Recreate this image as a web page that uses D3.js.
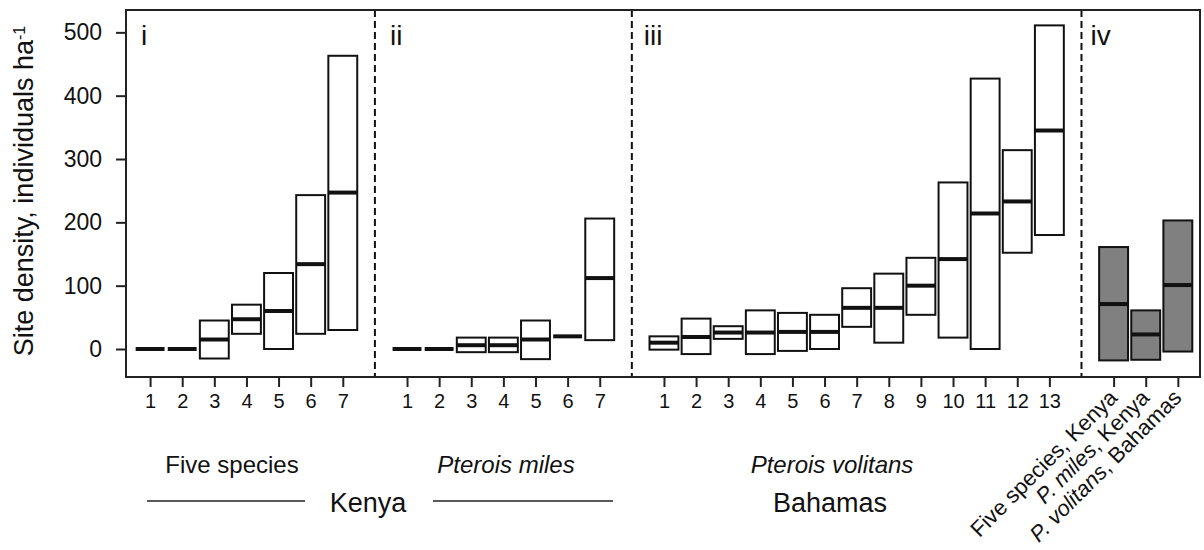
<!DOCTYPE html>
<html lang="en">
<head>
<meta charset="UTF-8">
<script src="https://d3js.org/d3.v7.min.js"></script>
<title>Site density</title>
<style>
  body { margin: 0; background: white; }
  svg text { font-family: "Liberation Sans", Arial, sans-serif; fill: #111; }
</style>
</head>
<body>
<svg id="chart"></svg>
<script>
// panel i: five species, Kenya
const kenyaAllSites = [1, 2, 3, 4, 5, 6, 7];
const kenyaAllLow = [0, 0, -15, 24, 0, 24, 30];
const kenyaAllMed = [0, 0, 15, 47, 60, 134, 247];
const kenyaAllHigh = [0, 0, 45, 70, 120, 243, 463];

// panel ii: Pterois miles, Kenya
const kenyaMilesSites = [1, 2, 3, 4, 5, 6, 7];
const kenyaMilesLow = [0, 0, -5, -5, -16, 20, 14];
const kenyaMilesMed = [0, 0, 6, 6, 15, 20, 112];
const kenyaMilesHigh = [0, 0, 18, 18, 45, 20, 206];

// panel iii: Pterois volitans, Bahamas
const bahamasSites = [1, 2, 3, 4, 5, 6, 7, 8, 9, 10, 11, 12, 13];
const bahamasLow = [-1, -8, 16, -8, -3, 0, 35, 10, 54, 18, 0, 152, 180];
const bahamasMed = [10, 19, 26, 26, 27, 27, 65, 65, 100, 142, 214, 233, 345];
const bahamasHigh = [20, 48, 36, 61, 57, 54, 96, 119, 144, 263, 427, 314, 511];

// panel iv: pooled
const pooledNames = ["Five species, Kenya", "P. miles, Kenya", "P. volitans, Bahamas"];
const pooledLow = [-18, -17, -4];
const pooledMed = [71, 23, 101];
const pooledHigh = [161, 61, 203];

const yTicks = [0, 100, 200, 300, 400, 500];

const w = 1204, h = 550;
const mLeft = 126, mRight = 1200, mTop = 10, mBottom = 377;

const svg = d3.select("#chart").attr("width", w).attr("height", h);

const x = d3.scaleLinear().domain([0.25, 33.69]).range([mLeft, mRight]);
const y = d3.scaleLinear().domain([-44.2, 535.3]).range([mBottom, mTop]);

// each site gets a slot on one shared x axis, panels offset by a gap
function rows(sites, lo, med, hi, offset, fill) {
  return sites.map((s, i) => ({ pos: offset + i + 1, label: s, lo: lo[i], med: med[i], hi: hi[i], fill: fill }));
}
const boxes = [].concat(
  rows(kenyaAllSites, kenyaAllLow, kenyaAllMed, kenyaAllHigh, 0, "white"),
  rows(kenyaMilesSites, kenyaMilesLow, kenyaMilesMed, kenyaMilesHigh, 8, "white"),
  rows(bahamasSites, bahamasLow, bahamasMed, bahamasHigh, 16, "white")
);
const pooled = rows(pooledNames, pooledLow, pooledMed, pooledHigh, 30, "#808080");
const all = boxes.concat(pooled);

const bw = x(0.9) - x(0);

// boxes
svg.selectAll("rect.box")
   .data(all.filter(d => d.hi > d.lo))
   .enter()
   .append("rect")
   .attr("class", "box")
   .attr("x", d => x(d.pos) - bw / 2)
   .attr("width", bw)
   .attr("y", d => y(d.hi))
   .attr("height", d => y(d.lo) - y(d.hi))
   .attr("fill", d => d.fill)
   .attr("stroke", "#111")
   .attr("stroke-width", 2);

// medians
svg.selectAll("line.med")
   .data(all)
   .enter()
   .append("line")
   .attr("class", "med")
   .attr("x1", d => x(d.pos) - bw / 2)
   .attr("x2", d => x(d.pos) + bw / 2)
   .attr("y1", d => y(d.med))
   .attr("y2", d => y(d.med))
   .attr("stroke", "#111")
   .attr("stroke-width", 4);

// dashed separators between panels
svg.selectAll("line.sep")
   .data([8, 16, 30])
   .enter()
   .append("line")
   .attr("class", "sep")
   .attr("x1", d => x(d)).attr("x2", d => x(d))
   .attr("y1", mTop).attr("y2", mBottom)
   .attr("stroke", "#111")
   .attr("stroke-width", 2)
   .attr("stroke-dasharray", "7,4");

// frame
svg.append("rect")
   .attr("x", mLeft).attr("y", mTop)
   .attr("width", mRight - mLeft).attr("height", mBottom - mTop)
   .attr("fill", "none")
   .attr("stroke", "#222")
   .attr("stroke-width", 2);

// y axis
const yAxis = d3.axisLeft(y).tickValues(yTicks).tickSize(10).tickPadding(14);
const gy = svg.append("g").attr("transform", "translate(" + mLeft + ",0)").call(yAxis);
gy.select(".domain").remove();
gy.selectAll("line").attr("stroke", "#222").attr("stroke-width", 2);
gy.selectAll("text").style("font-size", "23px").attr("font-family", null);

// x axis ticks for numbered sites
const xAxis = d3.axisBottom(x)
  .tickValues(boxes.map(d => d.pos))
  .tickFormat((d, i) => boxes[i].label)
  .tickSize(10).tickPadding(7);
const gx = svg.append("g").attr("transform", "translate(0," + mBottom + ")").call(xAxis);
gx.select(".domain").remove();
gx.selectAll("line").attr("stroke", "#222").attr("stroke-width", 2);
gx.selectAll("text").style("font-size", "20px").attr("font-family", null);

// ticks for pooled panel
const gp = svg.append("g").attr("transform", "translate(0," + mBottom + ")")
  .call(d3.axisBottom(x).tickValues(pooled.map(d => d.pos)).tickFormat("").tickSize(10));
gp.select(".domain").remove();
gp.selectAll("line").attr("stroke", "#222").attr("stroke-width", 2);

// rotated pooled labels, genus in italics
const rl = svg.selectAll("text.rot")
  .data(pooled)
  .enter()
  .append("text")
  .attr("class", "rot")
  .attr("transform", d => "translate(" + (x(d.pos) + 5) + "," + (mBottom + 22) + ") rotate(-45)")
  .attr("text-anchor", "end")
  .style("font-size", "22px");
rl.each(function(d) {
  const t = d3.select(this);
  const m = d.label.match(/^(P\. \w+)(,.*)$/);
  if (m) {
    t.append("tspan").style("font-style", "italic").text(m[1]);
    t.append("tspan").text(m[2]);
  } else {
    t.text(d.label);
  }
});

// panel letters
const panels = [{ t: "i", p: 0, dx: 15 }, { t: "ii", p: 8, dx: 15 }, { t: "iii", p: 16, dx: 12 }, { t: "iv", p: 30, dx: 9 }];
svg.selectAll("text.panel")
   .data(panels)
   .enter()
   .append("text")
   .attr("class", "panel")
   .attr("x", d => (d.p === 0 ? mLeft : x(d.p)) + d.dx)
   .attr("y", 45)
   .style("font-size", "28px")
   .text(d => d.t);

// y axis title
const yt = svg.append("text")
  .attr("transform", "translate(" + 33 + "," + 191 + ") rotate(-90)")
  .attr("text-anchor", "middle")
  .style("font-size", "27px");
yt.append("tspan").text("Site density, individuals ha");
yt.append("tspan").attr("dy", "-0.5em").style("font-size", "16px").text("-1");

// group labels under the axis
svg.append("text").attr("x", 232).attr("y", 473)
   .attr("text-anchor", "middle").style("font-size", "24px").text("Five species");
svg.append("text").attr("x", 506).attr("y", 473)
   .attr("text-anchor", "middle").style("font-size", "24px").style("font-style", "italic").text("Pterois miles");
svg.append("text").attr("x", 832).attr("y", 473)
   .attr("text-anchor", "middle").style("font-size", "24px").style("font-style", "italic").text("Pterois volitans");
svg.append("text").attr("x", 368).attr("y", 512)
   .attr("text-anchor", "middle").style("font-size", "27px").text("Kenya");
svg.append("text").attr("x", 830).attr("y", 512)
   .attr("text-anchor", "middle").style("font-size", "27px").text("Bahamas");
svg.append("line").attr("x1", 147).attr("x2", 305).attr("y1", 501).attr("y2", 501)
   .attr("stroke", "#222").attr("stroke-width", 1.5);
svg.append("line").attr("x1", 433).attr("x2", 613).attr("y1", 501).attr("y2", 501)
   .attr("stroke", "#222").attr("stroke-width", 1.5);
</script>
</body>
</html>
